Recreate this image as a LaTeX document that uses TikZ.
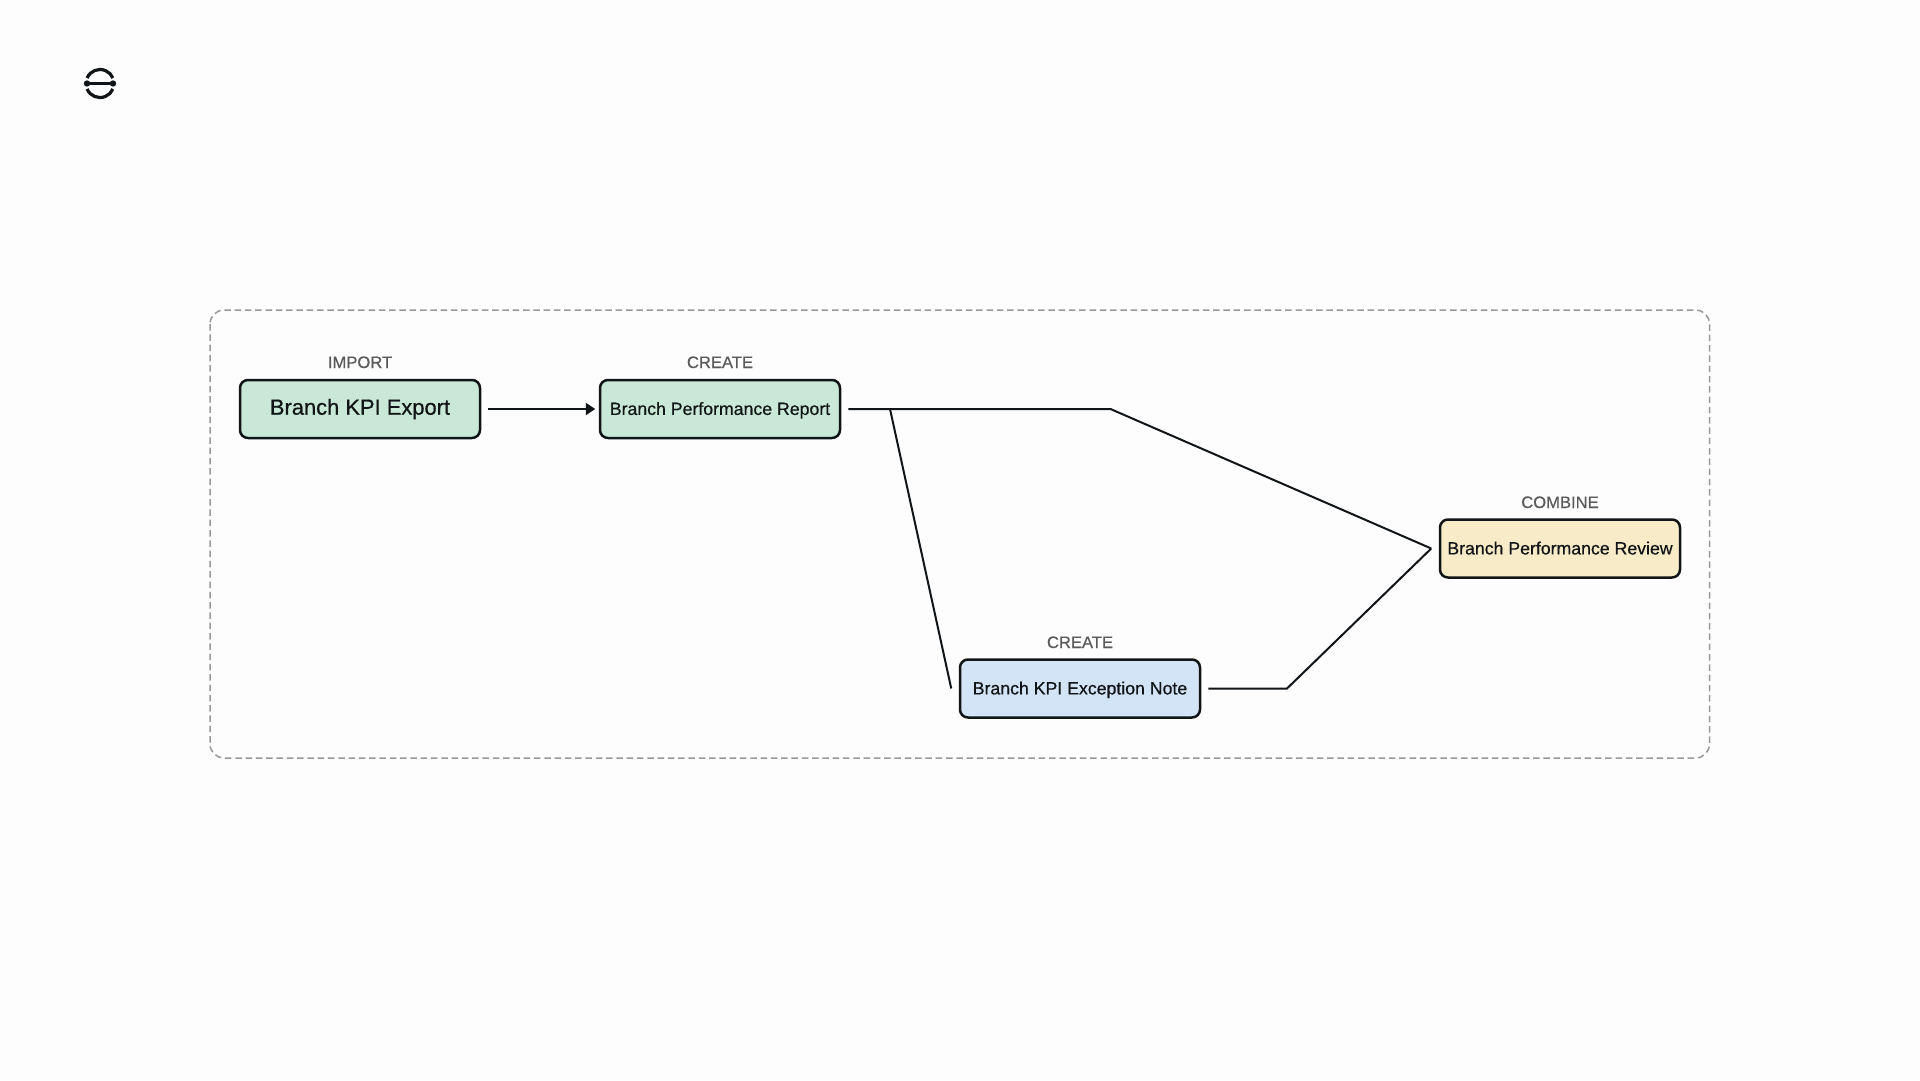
\documentclass[tikz,border=0pt]{standalone}
\usepackage{fontspec}
\setmainfont{Liberation Sans}
\newfontfamily\medfont{Liberation Sans}[FakeBold=0.6]
\usetikzlibrary{arrows.meta,calc}
\definecolor{pagebg}{HTML}{FDFDFD}
\definecolor{ink}{HTML}{111517}
\definecolor{grn}{HTML}{C9E8D8}
\definecolor{blu}{HTML}{D4E4F7}
\definecolor{yel}{HTML}{F8ECC8}
\definecolor{dashgray}{HTML}{989898}
\definecolor{labgray}{HTML}{5A5A5A}
\tikzset{
  x=1pt,y=-1pt,
  stepbox/.style={draw=ink,line width=2.5pt,rounded corners=8pt,minimum width=240pt,minimum height=58pt,inner sep=0pt,text=ink,text depth=1pt,font=\medfont\fontsize{17.7}{20}\selectfont},
  steplabel/.style={text=labgray,font=\medfont\fontsize{16.6}{18}\selectfont,inner sep=0pt,anchor=base},
  frame/.style={draw=dashgray,line width=1.5pt,rounded corners=14pt,dash pattern=on 6.5pt off 3.8pt},
  link/.style={draw=ink,line width=2pt,line join=miter},
  flow/.style={draw=ink,line width=2.6pt,-{Triangle[length=9.5pt,width=12pt]}},
}
\begin{document}
\begin{tikzpicture}
\useasboundingbox (0,0) rectangle (1920,1080);
\fill[pagebg] (0,0) rectangle (1920,1080);
% logo
\draw[ink,line width=3.2pt] (87.1,78) arc[start angle=157,end angle=23,radius=14pt];
\draw[ink,line width=3.2pt] (87.1,89) arc[start angle=203,end angle=337,radius=14pt];
\draw[ink,line width=2.2pt] (87,83.5) -- (113,83.5);
\fill[ink] (87,83.5) circle[radius=3.2pt] (113,83.5) circle[radius=3.2pt];
% frame
\draw[frame] (210,310) rectangle (1709.5,758);
% nodes
\node[stepbox,fill=grn,text depth=4.5pt,font=\medfont\fontsize{21.9}{24}\selectfont] (kpi) at (360,409) {Branch KPI Export};
\node[stepbox,fill=grn] (report) at (720,409) {Branch Performance Report};
\node[stepbox,fill=blu] (note) at (1080,688.5) {Branch KPI Exception Note};
\node[stepbox,fill=yel] (review) at (1560,548.5) {Branch Performance Review};
% labels
\node[steplabel] (l1) at (360,368) {IMPORT};
\node[steplabel] (l2) at (720,368) {CREATE};
\node[steplabel] (l3) at (1080,648) {CREATE};
\node[steplabel] (l4) at (1560,508) {COMBINE};
% connector points
\coordinate (repout) at ($(report.east)+(7,0)$);
\coordinate (bend1) at (1110.5,409);
\coordinate (revin) at ($(review.west)+(-7.5,0)$);
\coordinate (split) at (890,409);
\coordinate (notein) at ($(note.west)+(-7.5,0)$);
\coordinate (noteout) at ($(note.east)+(7,0)$);
\coordinate (bend2) at (1287,688.5);
\coordinate (kpiout) at ($(kpi.east)+(6.5,0)$);
\coordinate (repin) at ($(report.west)+(-3.5,0)$);
% connectors
\draw[flow] (kpiout) -- (repin);
\draw[link] (repout) -- (bend1) -- (revin);
\draw[link] (split) -- (notein);
\draw[link] (noteout) -- (bend2) -- (revin);
\end{tikzpicture}
\end{document}
